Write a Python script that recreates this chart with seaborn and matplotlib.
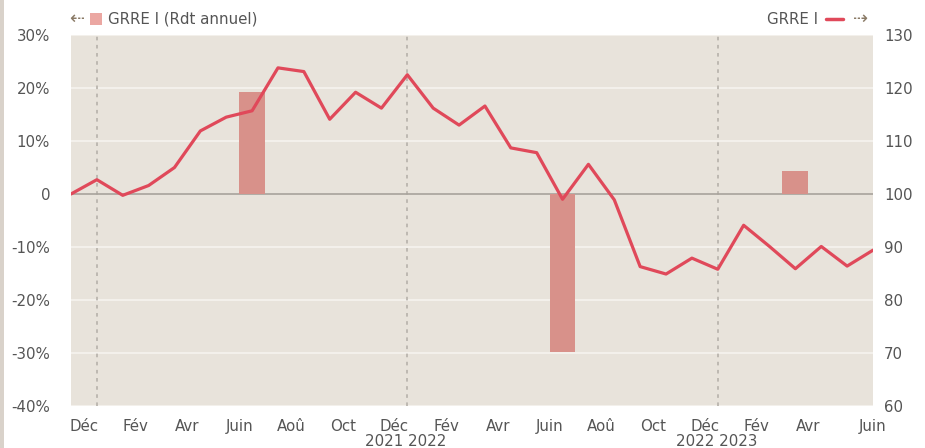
import matplotlib
matplotlib.use("Agg")
import matplotlib.pyplot as plt
import seaborn as sns
import pandas as pd
import numpy as np
from matplotlib.patches import Rectangle
from matplotlib.lines import Line2D
import matplotlib.transforms as mtransforms

# ---- data ----
index_values = [100.0, 102.7, 99.75, 101.6, 105.0, 111.9, 114.5, 115.7, 123.8, 123.1,
                114.1, 119.2, 116.2, 122.5, 116.2, 113.0, 116.6, 108.7, 107.8, 99.0,
                105.6, 98.9, 86.3, 84.9, 87.9, 85.8, 94.1, 90.1, 85.9, 90.1,
                86.4, 89.4]
bar_positions = [7, 19, 28]
bar_values = [19.2, -29.9, 4.3]
month_labels = ["Déc", "Fév", "Avr", "Juin", "Aoû", "Oct", "Déc", "Fév", "Avr", "Juin",
                "Aoû", "Oct", "Déc", "Fév", "Avr", "Juin"]
month_label_pos = [0.5, 2.5, 4.5, 6.5, 8.5, 10.5, 12.5, 14.5, 16.5, 18.5,
                   20.5, 22.5, 24.5, 26.5, 28.5, 31.0]
year_breaks = [1, 13, 25]
year_labels = {13: "2021 2022", 25: "2022 2023"}
left_ticks = [-40, -30, -20, -10, 0, 10, 20, 30]
left_tick_labels = ["-40%", "-30%", "-20%", "-10%", "0", "10%", "20%", "30%"]
right_ticks = [60, 70, 80, 90, 100, 110, 120, 130]

line_df = pd.DataFrame({"x": np.arange(len(index_values)), "v": index_values})
bar_df = pd.DataFrame({"x": bar_positions, "v": bar_values})

# ---- style ----
sns.set_style("white")
plt.rcParams["font.family"] = ["DejaVu Sans"]
TXT = "#555555"
BG = "#e8e3db"
LINE = "#e0495a"
BAR = "#d8918a"
FS = 10.8

fig = plt.figure(figsize=(9.25, 4.48), dpi=100)
fig.patch.set_facecolor("white")
fig.patches.append(Rectangle((0, 0), 4 / 925, 1, transform=fig.transFigure,
                             facecolor="#d9d2ca", edgecolor="none"))

ax = fig.add_axes([71 / 925, 1 - 406 / 448, 802 / 925, 371 / 448])
ax.set_facecolor(BG)

# grid
for t in left_ticks:
    if t != 0:
        ax.axhline(t, color="#f7f5f1", lw=1.1, zorder=0.5)
ax.axhline(0, color="#a8a39c", lw=1.2, zorder=1.5)
for b in year_breaks:
    ax.axvline(b, color="#bab5ae", lw=1.3, ls=(0, (2, 2.5)), zorder=0.6)

sns.barplot(data=bar_df, x="x", y="v", native_scale=True, width=1 / 9,
            color=BAR, saturation=1, ax=ax, zorder=2, edgecolor="none", linewidth=0)

ax.set_xlim(0, len(index_values) - 1)
ax.set_ylim(-40, 30)
ax.set_yticks(left_ticks)
ax.set_yticklabels(left_tick_labels)
ax.set_xticks(month_label_pos)
ax.set_xticklabels(month_labels)
ax.tick_params(axis="both", length=0, colors=TXT, labelsize=FS)
ax.tick_params(axis="y", pad=15)
ax.tick_params(axis="x", pad=9)
ax.set_xlabel("")
ax.set_ylabel("")
for s in ax.spines.values():
    s.set_visible(False)

trans = mtransforms.blended_transform_factory(ax.transData, ax.transAxes)
for pos, lab in year_labels.items():
    ax.text(pos - 0.05, -0.095, lab, transform=trans, ha="center", va="center",
            fontsize=FS, color=TXT)

ax2 = ax.twinx()
sns.lineplot(data=line_df, x="x", y="v", color=LINE, lw=2.3, ax=ax2, zorder=3)
ax2.set_ylim(60, 130)
ax2.set_yticks(right_ticks)
ax2.tick_params(axis="y", length=0, colors=TXT, labelsize=FS, pad=8)
ax2.set_xlim(0, len(index_values) - 1)
ax2.set_ylabel("")
ax2.set_xlabel("")
for s in ax2.spines.values():
    s.set_visible(False)

# ---- legends (top) ----
fy = 1 - 19 / 448
fig.text(69 / 925, fy, "⇠", ha="left", va="center", fontsize=13, color="#8a7a66")
fig.patches.append(Rectangle((90 / 925, 1 - 25 / 448), 12 / 925, 12 / 448,
                             transform=fig.transFigure, facecolor="#eba7a2", edgecolor="none"))
fig.text(108 / 925, fy, "GRRE I (Rdt annuel)", ha="left", va="center", fontsize=FS, color=TXT)

fig.text(818 / 925, fy, "GRRE I", ha="right", va="center", fontsize=FS, color=TXT)
fig.lines.append(Line2D([826 / 925, 843 / 925], [fy, fy], transform=fig.transFigure,
                        color=LINE, lw=2.5))
fig.text(853 / 925, fy, "⇢", ha="left", va="center", fontsize=13, color="#8a7a66")

fig.savefig("out.png", dpi=100)
